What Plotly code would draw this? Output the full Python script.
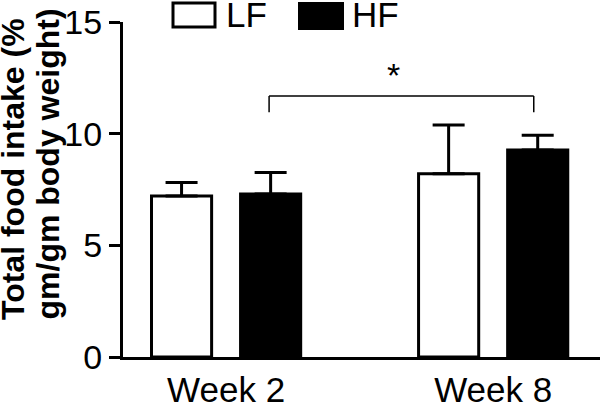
import plotly.graph_objects as go

categories = ["Week 2", "Week 8"]
lf_values = [7.21, 8.21]
lf_err = [0.60, 2.18]
hf_values = [7.30, 9.27]
hf_err = [0.96, 0.66]
y_ticks = [0, 5, 10, 15]

FONT = "Liberation Sans, Arial, Helvetica, sans-serif"
W, H = 600, 402
L, R, T, B = 123, 0, 22, 45
pw, ph = W - L - R, H - T - B

def px(x):
    return (x - L) / pw

def py(y):
    return (H - B - y) / ph

fig = go.Figure()
fig.add_trace(go.Bar(
    x=categories, y=lf_values, name="LF",
    marker=dict(color="white", line=dict(color="black", width=3)),
    error_y=dict(type="data", symmetric=False, array=lf_err, arrayminus=[0, 0],
                 color="black", thickness=3, width=16),
))
fig.add_trace(go.Bar(
    x=categories, y=hf_values, name="HF",
    marker=dict(color="black", line=dict(color="black", width=3)),
    error_y=dict(type="data", symmetric=False, array=hf_err, arrayminus=[0, 0],
                 color="black", thickness=3, width=16),
))

# significance bracket
bx0, bx1, by, bdrop = 0.161, 1.152, 11.69, 10.96
fig.add_shape(type="line", x0=bx0, x1=bx1, y0=by, y1=by, xref="x", yref="y",
              line=dict(color="black", width=1.5))
fig.add_shape(type="line", x0=bx0, x1=bx0, y0=by, y1=bdrop, xref="x", yref="y",
              line=dict(color="black", width=1.5))
fig.add_shape(type="line", x0=bx1, x1=bx1, y0=by, y1=bdrop, xref="x", yref="y",
              line=dict(color="black", width=1.5))
fig.add_annotation(x=0.625, y=12.62, xref="x", yref="y", text="*", showarrow=False,
                   font=dict(family=FONT, size=34, color="black"), yanchor="middle")

# legend
fig.add_shape(type="rect", xref="paper", yref="paper",
              x0=px(173), x1=px(215), y0=py(27), y1=py(3),
              line=dict(color="black", width=3), fillcolor="white")
fig.add_shape(type="rect", xref="paper", yref="paper",
              x0=px(298), x1=px(344), y0=py(30), y1=py(2),
              line=dict(color="black", width=0), fillcolor="black")
fig.add_annotation(x=px(224), y=py(15), xref="paper", yref="paper", text="LF",
                   showarrow=False, xanchor="left", yanchor="middle",
                   font=dict(family=FONT, size=35, color="black"))
fig.add_annotation(x=px(350), y=py(15), xref="paper", yref="paper", text="HF",
                   showarrow=False, xanchor="left", yanchor="middle",
                   font=dict(family=FONT, size=35, color="black"))

# y-axis title (two lines)
fig.add_annotation(x=px(13), y=py(322), xref="paper", yref="paper",
                   text="<b>Total food intake (%</b>", textangle=-90, showarrow=False,
                   xanchor="center", yanchor="bottom",
                   font=dict(family=FONT, size=32, color="black"))
fig.add_annotation(x=px(47), y=py(322), xref="paper", yref="paper",
                   text="<b>gm/gm body weight)</b>", textangle=-90, showarrow=False,
                   xanchor="center", yanchor="bottom",
                   font=dict(family=FONT, size=32, color="black"))

fig.update_layout(
    width=W, height=H, margin=dict(l=L, r=R, t=T, b=B, autoexpand=False),
    paper_bgcolor="white", plot_bgcolor="white",
    barmode="group", bargap=0.333, bargroupgap=0.325,
    showlegend=False,
    font=dict(family=FONT, size=35, color="black"),
)
fig.update_xaxes(range=[-0.386, 1.40], showline=True, linecolor="black", linewidth=3,
                 ticks="outside", ticklen=0, tickcolor="rgba(0,0,0,0)", automargin=False,
                 tickfont=dict(family=FONT, size=35, color="black"),
                 showgrid=False, zeroline=False)
fig.update_yaxes(range=[0, 15], tickvals=y_ticks, showline=True, linecolor="black",
                 linewidth=3, ticks="outside", ticklen=11, tickwidth=3, tickcolor="black",
                 automargin=False,
                 tickfont=dict(family=FONT, size=34, color="black"),
                 showgrid=False, zeroline=False)

fig.write_html("out.html",
               config={"displayModeBar": False},
               post_script="document.body.style.margin='0';document.body.style.overflow='hidden';")
